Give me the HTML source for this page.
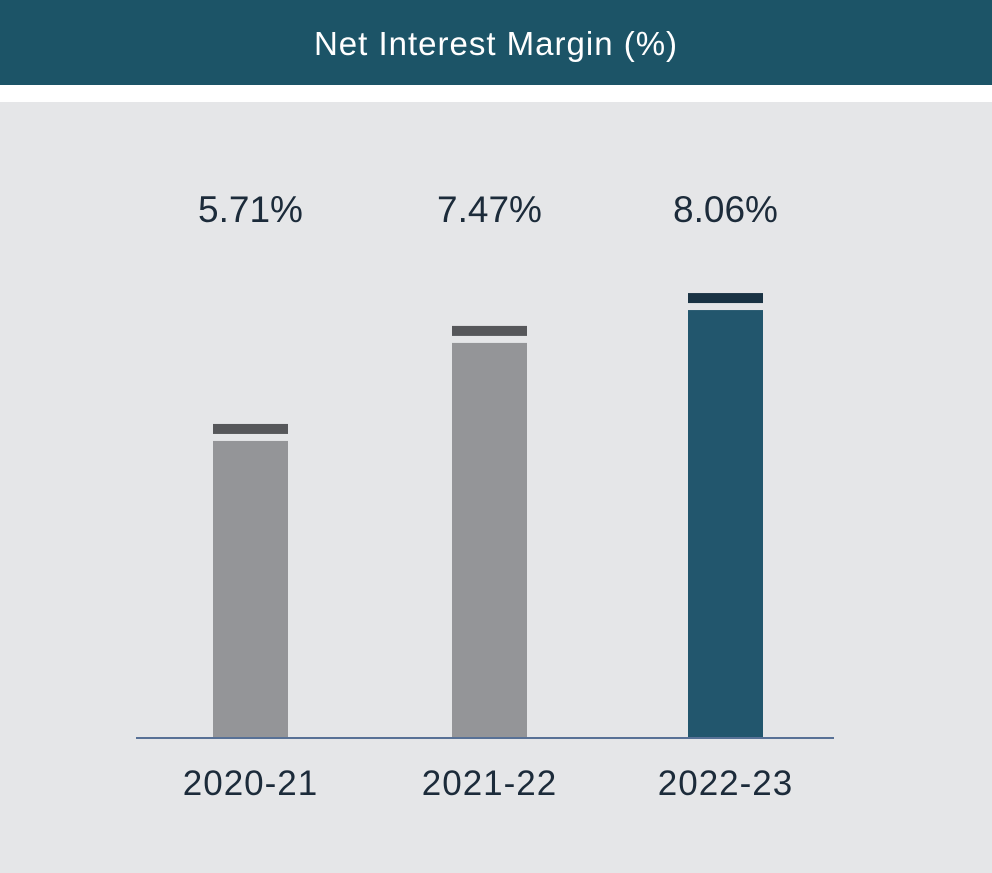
<!DOCTYPE html>
<html><head><meta charset="utf-8"><style>
html,body{margin:0;padding:0;width:992px;height:873px;background:#fff;overflow:hidden;font-family:"Liberation Sans",sans-serif}
#hdr{position:absolute;left:0;top:0;width:992px;height:85px;background:#1c5467;color:#fff;font-size:33px;text-align:center;line-height:88px;letter-spacing:1px;font-weight:300}
#panel{position:absolute;left:0;top:102px;width:992px;height:771px;background:#e5e6e8}
svg{position:absolute;left:0;top:0}
</style></head><body>
<div id="hdr">Net Interest Margin (%)</div>
<div id="panel"></div>
<svg id="chart" width="992" height="873"></svg>
<script>
const categories = ["2020-21","2021-22","2022-23"];
const values = [5.71,7.47,8.06];
const valueLabels = ["5.71%","7.47%","8.06%"];
const highlight = [false,false,true];

const NS="http://www.w3.org/2000/svg";
const svg=document.getElementById('chart');
const baseY=737;
function yScale(v){return Math.min(baseY, 759-55.7*v);}
function xCenter(i){return [250.5,489.5,725.5][i];}
const barW=75;
function mk(tag,attrs){const e=document.createElementNS(NS,tag);for(const k in attrs)e.setAttribute(k,attrs[k]);svg.appendChild(e);return e;}
values.forEach((v,i)=>{
  const top=yScale(v), x=xCenter(i)-barW/2;
  const body=mk('rect',{x:x,y:top,width:barW,height:baseY-top,fill:highlight[i]?'#22566d':'#949598'});
  
  
  const cap=mk('rect',{x:x,y:top-17,width:barW,height:10,fill:highlight[i]?'#1a3344':'#56575a'});
  
  
  const vl=mk('text',{x:xCenter(i),y:222,'text-anchor':'middle','font-size':'37',fill:'#1c2b3a','font-family':'Liberation Sans, sans-serif'});
  vl.textContent=valueLabels[i];
  
  
  const cl=mk('text',{x:xCenter(i),y:795,'text-anchor':'middle','font-size':'35',fill:'#1c2b3a','font-family':'Liberation Sans, sans-serif','letter-spacing':'1'});
  cl.textContent=categories[i];
  
  
});
const ax=mk('line',{x1:136,x2:834,y1:738,y2:738,stroke:'#2a4a7a','stroke-width':1.5});


</script>
</body></html>
